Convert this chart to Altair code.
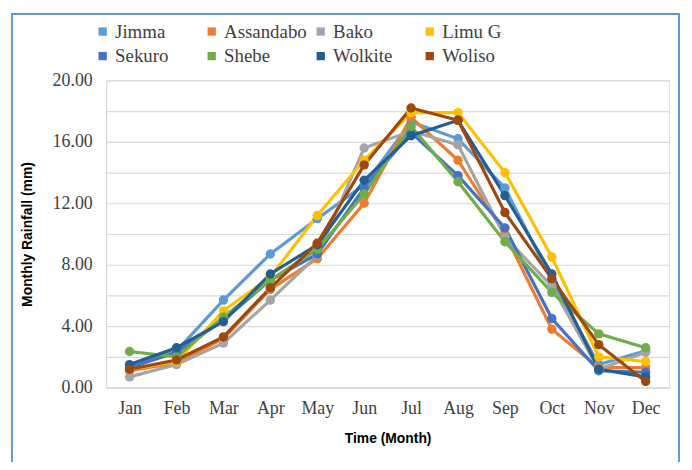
import altair as alt
import pandas as pd

months = ["Jan", "Feb", "Mar", "Apr", "May", "Jun", "Jul", "Aug", "Sep", "Oct", "Nov", "Dec"]
stations = ["Jimma", "Assandabo", "Bako", "Limu G", "Sekuro", "Shebe", "Wolkite", "Woliso"]
colors = ["#5B9BD5", "#ED7D31", "#A5A5A5", "#FFC000", "#4472C4", "#70AD47", "#255E91", "#9E480E"]

jimma     = [1.4, 2.4, 5.7, 8.7, 11.0, 13.2, 17.3, 16.2, 13.0, 7.0, 1.5, 2.4]
assandabo = [1.1, 1.6, 3.2, 6.4, 8.4, 12.0, 17.6, 14.8, 10.0, 3.8, 1.3, 1.3]
bako      = [0.7, 1.5, 2.9, 5.7, 8.6, 15.6, 16.7, 15.8, 9.8, 6.6, 1.2, 2.3]
limu_g    = [1.2, 1.7, 5.0, 7.2, 11.2, 14.8, 17.9, 17.9, 14.0, 8.5, 2.0, 1.7]
sekuro    = [1.3, 2.3, 4.4, 7.0, 8.7, 13.0, 16.6, 13.8, 10.4, 4.5, 1.1, 1.0]
shebe     = [2.35, 2.0, 4.6, 7.0, 9.0, 12.6, 17.0, 13.4, 9.5, 6.2, 3.5, 2.6]
wolkite   = [1.5, 2.6, 4.3, 7.4, 9.3, 13.5, 16.4, 17.4, 12.5, 7.4, 1.2, 0.7]
woliso    = [1.2, 1.8, 3.3, 6.5, 9.4, 14.5, 18.2, 17.4, 11.4, 7.1, 2.8, 0.4]

series = [jimma, assandabo, bako, limu_g, sekuro, shebe, wolkite, woliso]

rows = []
for name, vals in zip(stations, series):
    for m, v in zip(months, vals):
        rows.append({"Month": m, "Station": name, "Rainfall": v})
df = pd.DataFrame(rows)

y_values = [0, 2, 4, 6, 8, 10, 12, 14, 16, 18, 20]

x_enc = alt.X("Month:N", sort=months,
              scale=alt.Scale(type="point", padding=0.5),
              axis=alt.Axis(title="Time (Month)", labelAngle=0, labelFont="Liberation Serif",
                            labelFontSize=18, labelColor="#404040", labelPadding=12,
                            titleFont="Liberation Sans", titleFontSize=14, titleFontWeight="bold",
                            titleColor="#000000", titlePadding=14, ticks=False,
                            domainColor="#d9d9d9", grid=False))
y_enc = alt.Y("Rainfall:Q", scale=alt.Scale(domain=[0, 20], nice=False),
              axis=alt.Axis(title="Monthly Rainfall (mm)", values=y_values,
                            labelExpr="datum.value % 4 == 0 ? format(datum.value, '.2f') : ''",
                            labelFont="Liberation Serif", labelFontSize=18, labelColor="#404040",
                            labelPadding=14, ticks=False, domainColor="#d9d9d9",
                            gridColor="#d9d9d9", gridWidth=1.2,
                            titleFont="Liberation Sans", titleFontSize=14, titleFontWeight="bold",
                            titleColor="#000000", titlePadding=18))

color_scale = alt.Scale(domain=stations, range=colors)
legend = alt.Legend(title=None, orient="none", legendX=-13, legendY=-59,
                    columns=4, direction="horizontal", symbolType="square",
                    symbolSize=70, symbolStrokeWidth=0, labelFont="Liberation Serif",
                    labelFontSize=19, labelColor="#404040",
                    gridAlign="all", columnPadding=4, rowPadding=5, labelOffset=3)

lines = alt.Chart(df).mark_line(strokeWidth=3.2).encode(
    x=x_enc, y=y_enc,
    color=alt.Color("Station:N", scale=color_scale, legend=legend),
)

points = alt.Chart(df).mark_circle(size=90, opacity=1).encode(
    x=x_enc, y=y_enc,
    color=alt.Color("Station:N", scale=color_scale, legend=legend),
)

frame_df = pd.DataFrame({"k": [0]})
frame = alt.Chart(frame_df).mark_rect(filled=False, stroke="#5B9BD5", strokeWidth=2).encode(
    x=alt.value(-95), x2=alt.value(578), y=alt.value(-67), y2=alt.value(420)
)

chart = alt.layer(frame, lines, points).properties(
    width=568, height=310,
    autosize=alt.AutoSizeParams(type="none"),
    padding={"left": 99, "top": 71, "right": 15, "bottom": 73},
).configure_view(stroke=None).configure(background="white")

chart.save("out.html", embed_options={"renderer": "svg", "actions": False})
